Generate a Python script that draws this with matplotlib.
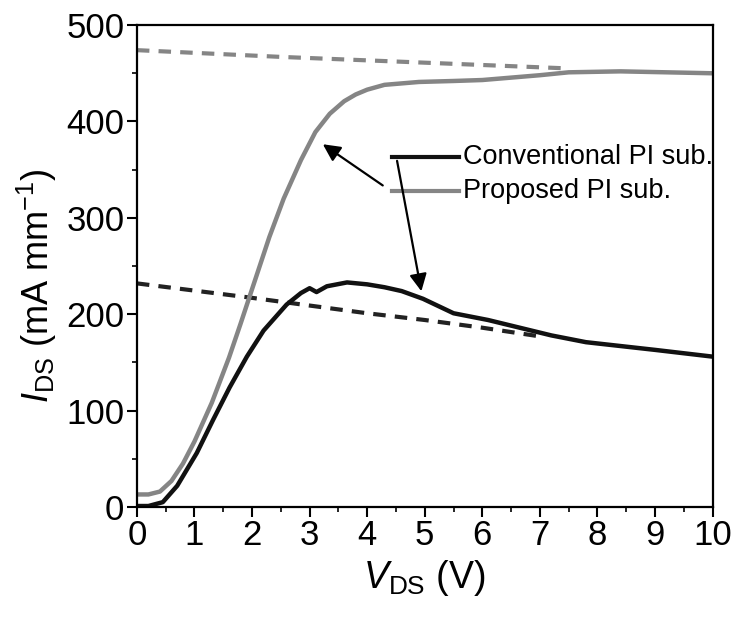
import matplotlib
matplotlib.use("Agg")
import matplotlib.pyplot as plt
from matplotlib.ticker import MultipleLocator

plt.rcParams['font.family'] = ['Liberation Sans', 'DejaVu Sans']
plt.rcParams['mathtext.fontset'] = 'custom'
plt.rcParams['mathtext.rm'] = 'Liberation Sans'
plt.rcParams['mathtext.it'] = 'Liberation Sans:italic'

# Conventional PI sub. (solid, black)
conv_v = [0.0, 0.2, 0.45, 0.7, 1.04, 1.32, 1.61, 1.91, 2.2, 2.6, 2.85, 3.0, 3.12, 3.3, 3.65,
          4.0, 4.3, 4.6, 4.97, 5.5, 6.1, 6.65, 7.2, 7.8, 8.4, 9.0, 10.0]
conv_i = [1, 1, 5, 22, 56, 90, 124, 156, 183, 210, 222, 227, 223, 229, 233,
          231, 228, 224, 216, 201, 194, 186, 178, 171, 167, 163, 156]

# Proposed PI sub. (solid, gray)
prop_v = [0.0, 0.2, 0.4, 0.6, 0.8, 1.0, 1.3, 1.6, 1.8, 2.0, 2.3, 2.55, 2.85, 3.1, 3.35,
          3.6, 3.8, 4.0, 4.3, 4.9, 5.5, 6.0, 6.6, 7.0, 7.5, 8.4, 9.2, 10.0]
prop_i = [13, 13, 16, 27, 45, 68, 108, 155, 190, 226, 280, 320, 360, 389, 408,
          421, 428, 433, 438, 441, 442, 443, 446, 448, 451, 452, 451, 450]

# dashed lines
conv_dash_v = [0.0, 2.0, 4.0, 5.0, 6.0, 7.0]
conv_dash_i = [232, 217, 201, 194, 186, 177]
prop_dash_v = [0.0, 2.5, 5.0, 7.5]
prop_dash_i = [474, 467, 461, 455]

xticks = list(range(0, 11))
yticks = [0, 100, 200, 300, 400, 500]

fig = plt.figure(figsize=(7.4, 6.21), dpi=100)
ax = fig.add_axes([0.185, 0.1836, 0.778, 0.776])

gray = '#858585'
ax.plot(prop_dash_v, prop_dash_i, color=gray, lw=3, ls=(0, (3, 2.2)))
ax.plot(conv_dash_v, conv_dash_i, color='#222222', lw=3, ls=(0, (3, 2.2)))
ax.plot(prop_v, prop_i, color=gray, lw=3.2)
ax.plot(conv_v, conv_i, color='#111111', lw=3.2)

# legend drawn inside
ax.plot([4.43, 5.6], [363, 363], color='#111111', lw=3)
ax.plot([4.43, 5.6], [328, 328], color=gray, lw=3)
ax.text(5.66, 363, 'Conventional PI sub.', fontsize=19.5, va='center', ha='left')
ax.text(5.66, 328, 'Proposed PI sub.', fontsize=19.5, va='center', ha='left')

# arrows
ax.annotate('', xy=(3.19, 378), xytext=(4.31, 332),
            arrowprops=dict(arrowstyle='-|>', color='black', lw=1.6, mutation_scale=26))
ax.annotate('', xy=(4.95, 221), xytext=(4.51, 362),
            arrowprops=dict(arrowstyle='-|>', color='black', lw=1.6, mutation_scale=26))

ax.set_xlim(0, 10)
ax.set_ylim(0, 500)
ax.set_xticks(xticks)
ax.set_yticks(yticks)
ax.xaxis.set_minor_locator(MultipleLocator(0.5))
ax.yaxis.set_minor_locator(MultipleLocator(50))
ax.tick_params(which='major', direction='out', length=7, width=1.5, labelsize=25, pad=2)
ax.tick_params(which='minor', direction='out', length=3.5, width=1.2)
for s in ax.spines.values():
    s.set_linewidth(1.6)

ax.set_xlabel(r'$V_{\rm DS}$ (V)', fontsize=27, labelpad=4)
ax.set_ylabel(r'$I_{\rm DS}$ (mA mm$^{-1}$)', fontsize=26, labelpad=6)
ax.yaxis.set_label_coords(-0.135, 0.46)

fig.savefig('out.png', dpi=100)
